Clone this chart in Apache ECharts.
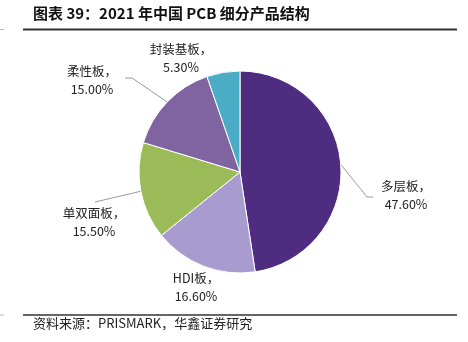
<!DOCTYPE html>
<html><head><meta charset="utf-8">
<script src="https://cdn.jsdelivr.net/npm/echarts@6/dist/echarts.min.js"></script>
<style>html,body{margin:0;padding:0;background:#fff}#c{width:468px;height:342px}</style>
</head><body><div id="c"></div>
<script>
const categories = ['多层板', 'HDI板', '单双面板', '柔性板', '封装基板'];
const values = [47.6, 16.6, 15.5, 15.0, 5.3];
const colors = ['#4E2C80', '#A89BCF', '#9BBB59', '#8064A2', '#4BACC6'];
const titleText = '图表 39：2021 年中国 PCB 细分产品结构';
const sourceText = '资料来源：PRISMARK，华鑫证券研究';

// label placement styles (per slice index)
const labelPos = [
  {x: 406, y: 195, line: [[367, 197], [373, 197]]},
  {x: 196, y: 287, line: null},
  {x: 94, y: 222, line: [[95, 202], [95, 202]]},
  {x: 92, y: 80, line: [[132, 78], [125, 78]]},
  {x: 181, y: 58, line: null}
];

const chart = echarts.init(document.getElementById('c'), null, {renderer: 'canvas'});
const font = '"Noto Sans CJK SC", "Noto Sans", sans-serif';
chart.setOption({
  animation: false,
  graphic: [
    {type: 'text', left: 33, top: 6, style: {text: titleText, font: 'bold 15px ' + font, fill: '#111'}},
    {type: 'line', shape: {x1: 23, y1: 29.5, x2: 457, y2: 29.5}, style: {stroke: '#333', lineWidth: 2}},
    {type: 'line', shape: {x1: 0, y1: 29.5, x2: 4, y2: 29.5}, style: {stroke: '#bbb', lineWidth: 1}},
    {type: 'line', shape: {x1: 23, y1: 315, x2: 457, y2: 315}, style: {stroke: '#333', lineWidth: 1.5}},
    {type: 'line', shape: {x1: 0, y1: 315, x2: 4, y2: 315}, style: {stroke: '#bbb', lineWidth: 1}},
    {type: 'text', left: 33, top: 317, style: {text: sourceText, font: '13px ' + font, fill: '#222'}}
  ],
  series: [{
    type: 'pie',
    center: [240, 172],
    radius: [0, 101],
    startAngle: 90,
    clockwise: true,
    avoidLabelOverlap: false,
    itemStyle: {borderColor: '#fff', borderWidth: 1},
    label: {
      show: true,
      formatter: p => p.name + '，\n' + p.value.toFixed(2) + '%',
      fontFamily: font,
      fontSize: 12.5,
      lineHeight: 18,
      color: '#222',
      align: 'center'
    },
    labelLine: {show: true, lineStyle: {color: '#999', width: 1}},
    labelLayout: function (params) {
      const s = labelPos[params.dataIndex];
      const out = {x: s.x, y: s.y, align: 'center', verticalAlign: 'middle'};
      if (s.line && params.labelLinePoints) {
        out.labelLinePoints = [params.labelLinePoints[0], s.line[0], s.line[1]];
      }
      return out;
    },
    data: categories.map((c, i) => ({
      name: c, value: values[i],
      itemStyle: {color: colors[i]},
      labelLine: {show: labelPos[i].line !== null}
    }))
  }]
});
</script></body></html>
